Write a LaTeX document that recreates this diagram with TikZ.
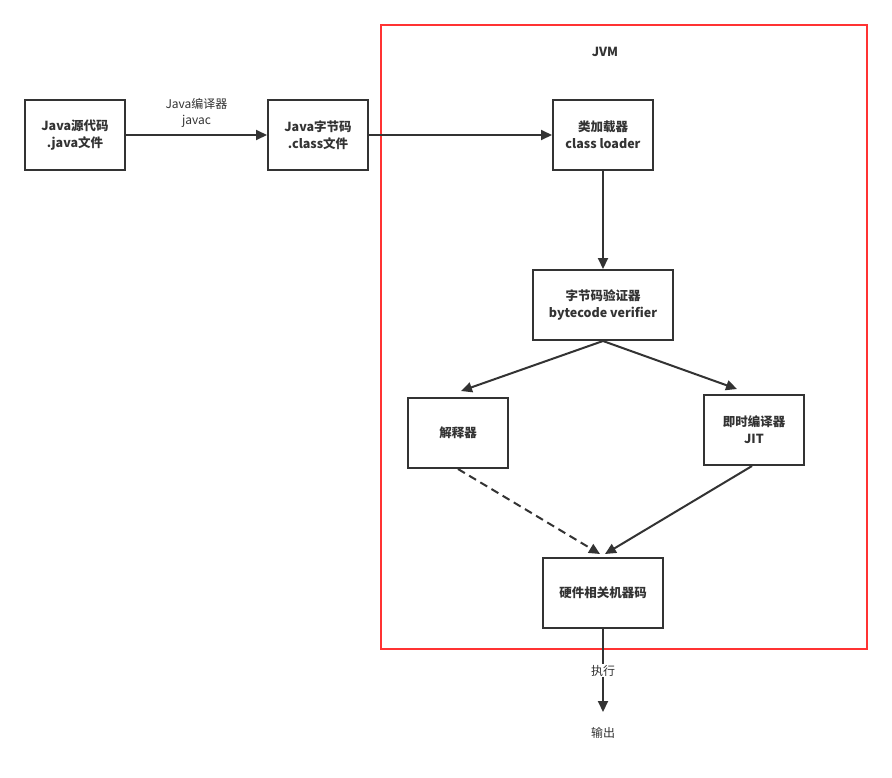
\documentclass[tikz,border=0pt]{standalone}
\usepackage{fontspec}
\setmainfont{Noto Sans CJK SC}
\usetikzlibrary{arrows.meta,calc}
\definecolor{ink}{HTML}{333333}
\definecolor{jvmred}{HTML}{FF3333}
\begin{document}
\begin{tikzpicture}[x=1pt,y=-1pt,
  box/.style={draw=ink,line width=2pt,fill=white,minimum height=70pt,align=center,
    font=\fontsize{12.5}{17}\selectfont\bfseries,text=ink,inner sep=2pt},
  conn/.style={draw=ink,line width=2pt,-{Triangle[length=11pt,width=10pt]}},
  lbl/.style={font=\fontsize{12}{16}\selectfont,text=ink,align=center}]
\useasboundingbox (0,0) rectangle (892,777);
\fill[white] (0,0) rectangle (892,777);
\draw[jvmred,line width=1.5pt] (381,25) rectangle (867,649);
\node[lbl,font=\fontsize{12.5}{17}\selectfont\bfseries] (jvm) at (605,52) {JVM};
\node[box,minimum width=100pt] (src) at (75,135) {Java源代码\\.java文件};
\node[box,minimum width=100pt] (cls) at (318,135) {Java字节码\\.class文件};
\node[box,minimum width=100pt] (ldr) at (603,135) {类加载器\\class loader};
\node[box,minimum width=140pt] (ver) at (603,305) {字节码验证器\\bytecode verifier};
\node[box,minimum width=100pt] (itp) at (458,433) {解释器};
\node[box,minimum width=100pt] (jit) at (754,430) {即时编译器\\JIT};
\node[box,minimum width=120pt] (hw) at (603,593) {硬件相关机器码};
\coordinate (out) at (603,712);
\node[lbl] (outl) at (603,733) {输出};
\draw[conn] (src) -- (cls) node[lbl,midway,above=3pt] (jc) {Java编译器\\javac};
\draw[conn] (cls) -- (ldr);
\draw[conn] (ldr) -- (ver);
\draw[conn] (ver.south) -- ($(itp.north)+(3,-6)$);
\draw[conn] (ver.south) -- ($(jit.north)+(-17,-5)$);
\draw[conn,dashed,dash pattern=on 8pt off 5pt] (itp.south) -- ($(hw.north)+(-3,-3)$);
\draw[conn] ($(jit.south)+(-2,0)$) -- ($(hw.north)+(2,-3)$);
\draw[conn] (hw.south) -- (out) node[lbl,pos=0.5,fill=white,inner sep=1pt] (ex) {执行};
\end{tikzpicture}
\end{document}
